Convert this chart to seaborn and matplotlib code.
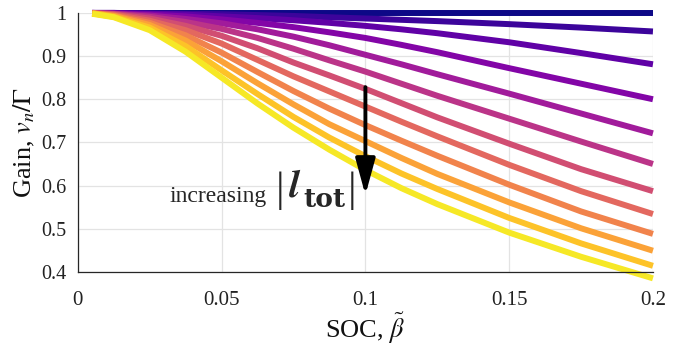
import numpy as np
import pandas as pd
import matplotlib
matplotlib.use("Agg")
import matplotlib.pyplot as plt
import seaborn as sns

soc = [0.005, 0.0125, 0.025, 0.0375, 0.05, 0.0625, 0.075, 0.0875,
       0.1, 0.1125, 0.125, 0.15, 0.175, 0.2]

# gain curves, smallest |l_tot| first
g01 = [1.0, 1.0, 1.0, 1.0, 1.0, 1.0, 1.0, 1.0, 1.0, 1.0, 1.0, 1.0, 1.0, 1.0]
g02 = [1.0, 1.0, 0.999, 0.998, 0.997, 0.995, 0.993, 0.990, 0.987, 0.984, 0.981, 0.974, 0.966, 0.957]
g03 = [1.0, 1.0, 0.998, 0.996, 0.992, 0.988, 0.983, 0.977, 0.970, 0.962, 0.953, 0.932, 0.907, 0.881]
g04 = [1.0, 0.999, 0.996, 0.992, 0.985, 0.977, 0.967, 0.955, 0.942, 0.926, 0.909, 0.872, 0.836, 0.800]
g05 = [1.0, 0.998, 0.994, 0.986, 0.976, 0.962, 0.945, 0.925, 0.903, 0.881, 0.858, 0.813, 0.767, 0.721]
g06 = [1.0, 0.998, 0.991, 0.979, 0.963, 0.942, 0.917, 0.890, 0.864, 0.836, 0.808, 0.755, 0.702, 0.650]
g07 = [0.999, 0.997, 0.987, 0.970, 0.947, 0.918, 0.885, 0.855, 0.824, 0.791, 0.758, 0.697, 0.638, 0.587]
g08 = [0.999, 0.996, 0.982, 0.960, 0.929, 0.891, 0.853, 0.818, 0.783, 0.748, 0.714, 0.648, 0.587, 0.534]
g09 = [0.999, 0.994, 0.977, 0.948, 0.908, 0.863, 0.819, 0.778, 0.740, 0.704, 0.669, 0.602, 0.540, 0.488]
g10 = [0.999, 0.993, 0.972, 0.936, 0.888, 0.837, 0.788, 0.742, 0.703, 0.664, 0.627, 0.561, 0.501, 0.449]
g11 = [0.999, 0.991, 0.966, 0.923, 0.867, 0.812, 0.759, 0.711, 0.668, 0.628, 0.592, 0.525, 0.466, 0.414]
g12 = [0.998, 0.990, 0.960, 0.910, 0.850, 0.790, 0.734, 0.683, 0.636, 0.594, 0.557, 0.491, 0.435, 0.385]

curves = [g01, g02, g03, g04, g05, g06, g07, g08, g09, g10, g11, g12]

xticks = [0, 0.05, 0.1, 0.15, 0.2]
xticklabels = ["0", "0.05", "0.1", "0.15", "0.2"]
yticks = [0.4, 0.5, 0.6, 0.7, 0.8, 0.9, 1.0]
yticklabels = ["0.4", "0.5", "0.6", "0.7", "0.8", "0.9", "1"]

rows = []
for k, g in enumerate(curves):
    for s, v in zip(soc, g):
        rows.append({"soc": s, "gain": v, "curve": k})
df = pd.DataFrame(rows)

sns.set_style("whitegrid")
plt.rcParams["font.family"] = ["Liberation Serif", "DejaVu Serif"]
plt.rcParams["mathtext.fontset"] = "stix"

fig = plt.figure(figsize=(6.83, 3.49), dpi=100)
ax = fig.add_axes([0.114, 0.221, 0.842, 0.742])

colors = [plt.cm.plasma(t) for t in np.linspace(0, 0.96, len(curves))]
sns.lineplot(data=df, x="soc", y="gain", hue="curve", palette=colors,
             linewidth=4.3, legend=False, ax=ax)
for ln in ax.lines:
    ln.set_solid_capstyle("butt")
    ln.set_solid_joinstyle("round")
    ln.set_clip_on(False)

ax.set_xlim(0, 0.2)
ax.set_ylim(0.4, 1.0)
ax.set_xticks(xticks)
ax.set_xticklabels(xticklabels)
ax.set_yticks(yticks)
ax.set_yticklabels(yticklabels)
ax.tick_params(direction="in", length=5, width=0.8, colors="#262626",
               labelsize=14.5, labelcolor="#222222")
ax.tick_params(axis="x", pad=14, labelsize=15)
ax.tick_params(axis="y", pad=8)
ax.grid(True, color="#e3e3e3", linewidth=0.9)
for side in ["top", "right"]:
    ax.spines[side].set_visible(False)
for side in ["left", "bottom"]:
    ax.spines[side].set_color("#262626")
    ax.spines[side].set_linewidth(0.9)

ax.set_xlabel(r"SOC, $\tilde{\beta}$", fontsize=19, color="#111111", labelpad=0)
ax.set_ylabel(r"Gain, $v_n/\Gamma$", fontsize=19, color="#111111", labelpad=3)

# arrow and label
ax.annotate("", xy=(0.1, 0.578), xytext=(0.1, 0.828),
            arrowprops=dict(arrowstyle="-|>,head_length=2.2,head_width=0.6",
                            lw=2.8, color="black", shrinkA=0, shrinkB=0))
ax.text(0.0657, 0.574, "increasing", fontsize=17, ha="right", va="center")
ax.text(0.0755, 0.5735, r"$\mathbfit{l}$", fontsize=28, ha="center", va="baseline")
ax.text(0.0783, 0.5504, "tot", fontsize=19, fontweight="bold",
        family="DejaVu Serif", ha="left", va="baseline")
for bx in [0.0704, 0.0952]:
    ax.text(bx, 0.588, "|", fontsize=31, ha="center", va="center")

fig.savefig("out.png", dpi=100)
